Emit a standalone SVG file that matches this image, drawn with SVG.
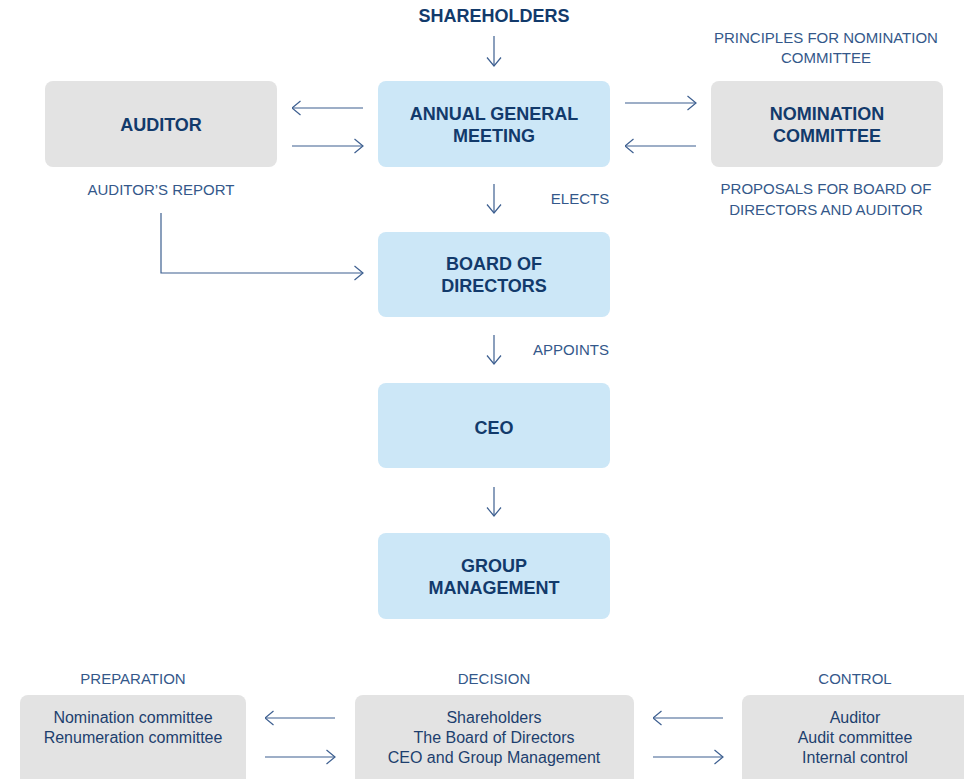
<svg xmlns="http://www.w3.org/2000/svg" width="964" height="779" viewBox="0 0 964 779">
<defs>
<style>
.blue{fill:#cce7f7}
.gray{fill:#e3e3e3}
.t{font-family:"Liberation Sans",Arial,sans-serif;font-weight:bold;font-size:18px;fill:#123a6b;text-anchor:middle}
.l{font-family:"Liberation Sans",Arial,sans-serif;font-size:15px;fill:#34588a;text-anchor:middle}
.b{font-family:"Liberation Sans",Arial,sans-serif;font-size:16px;fill:#1d3f6e;text-anchor:middle}
.c{fill:none;stroke:#3d5f90;stroke-width:1.2}
</style>
<marker id="ah" viewBox="0 0 10 16" refX="9.5" refY="8" markerWidth="10" markerHeight="16" markerUnits="userSpaceOnUse" orient="auto">
<path d="M1,1 L9.5,8 L1,15" fill="none" stroke="#3d5f90" stroke-width="1.2"/>
</marker>
</defs>
<rect width="964" height="779" fill="#ffffff"/>

<g id="shareholders"><text class="t" x="494" y="22">SHAREHOLDERS</text></g>

<g id="agm"><rect class="blue" x="378" y="81" width="232" height="86" rx="8"/>
<text class="t" x="494" y="120">ANNUAL GENERAL</text><text class="t" x="494" y="142">MEETING</text></g>

<g id="auditor"><rect class="gray" x="45" y="81" width="232" height="86" rx="8"/>
<text class="t" x="161" y="131">AUDITOR</text></g>

<g id="nomination"><rect class="gray" x="711" y="81" width="232" height="86" rx="8"/>
<text class="t" x="827" y="120">NOMINATION</text><text class="t" x="827" y="142">COMMITTEE</text></g>

<g id="board"><rect class="blue" x="378" y="232" width="232" height="85" rx="8"/>
<text class="t" x="494" y="270">BOARD OF</text><text class="t" x="494" y="292">DIRECTORS</text></g>

<g id="ceo"><rect class="blue" x="378" y="383" width="232" height="85" rx="8"/>
<text class="t" x="494" y="434">CEO</text></g>

<g id="group"><rect class="blue" x="378" y="533" width="232" height="86" rx="8"/>
<text class="t" x="494" y="572">GROUP</text><text class="t" x="494" y="594">MANAGEMENT</text></g>

<g id="labels">
<text class="l" x="161" y="195">AUDITOR’S REPORT</text>
<text class="l" x="580" y="204">ELECTS</text>
<text class="l" x="571" y="355">APPOINTS</text>
<text class="l" x="826" y="43">PRINCIPLES FOR NOMINATION</text>
<text class="l" x="826" y="63">COMMITTEE</text>
<text class="l" x="826" y="194">PROPOSALS FOR BOARD OF</text>
<text class="l" x="826" y="215">DIRECTORS AND AUDITOR</text>
<text class="l" x="133" y="684">PREPARATION</text>
<text class="l" x="494" y="684">DECISION</text>
<text class="l" x="855" y="684">CONTROL</text>
</g>

<g id="preparation"><rect class="gray" x="20" y="695" width="226" height="100" rx="8"/>
<text class="b" x="133" y="723">Nomination committee</text>
<text class="b" x="133" y="743">Renumeration committee</text></g>

<g id="decision"><rect class="gray" x="355" y="695" width="279" height="100" rx="8"/>
<text class="b" x="494" y="723">Shareholders</text>
<text class="b" x="494" y="743">The Board of Directors</text>
<text class="b" x="494" y="763">CEO and Group Management</text></g>

<g id="control"><rect class="gray" x="742" y="695" width="240" height="100" rx="8"/>
<text class="b" x="855" y="723">Auditor</text>
<text class="b" x="855" y="743">Audit committee</text>
<text class="b" x="855" y="763">Internal control</text></g>

<g id="connectors">
<line class="c" x1="494" y1="36" x2="494" y2="66" marker-end="url(#ah)"/>
<line class="c" x1="363" y1="108" x2="292" y2="108" marker-end="url(#ah)"/>
<line class="c" x1="292" y1="146" x2="363" y2="146" marker-end="url(#ah)"/>
<line class="c" x1="625" y1="103" x2="696" y2="103" marker-end="url(#ah)"/>
<line class="c" x1="696" y1="146" x2="625" y2="146" marker-end="url(#ah)"/>
<line class="c" x1="494" y1="184" x2="494" y2="213" marker-end="url(#ah)"/>
<polyline class="c" points="161,213 161,273 363,273" marker-end="url(#ah)"/>
<line class="c" x1="494" y1="335" x2="494" y2="364" marker-end="url(#ah)"/>
<line class="c" x1="494" y1="487" x2="494" y2="516" marker-end="url(#ah)"/>
<line class="c" x1="335" y1="718" x2="265" y2="718" marker-end="url(#ah)"/>
<line class="c" x1="265" y1="757" x2="335" y2="757" marker-end="url(#ah)"/>
<line class="c" x1="723" y1="718" x2="653" y2="718" marker-end="url(#ah)"/>
<line class="c" x1="653" y1="757" x2="723" y2="757" marker-end="url(#ah)"/>
</g>
</svg>
